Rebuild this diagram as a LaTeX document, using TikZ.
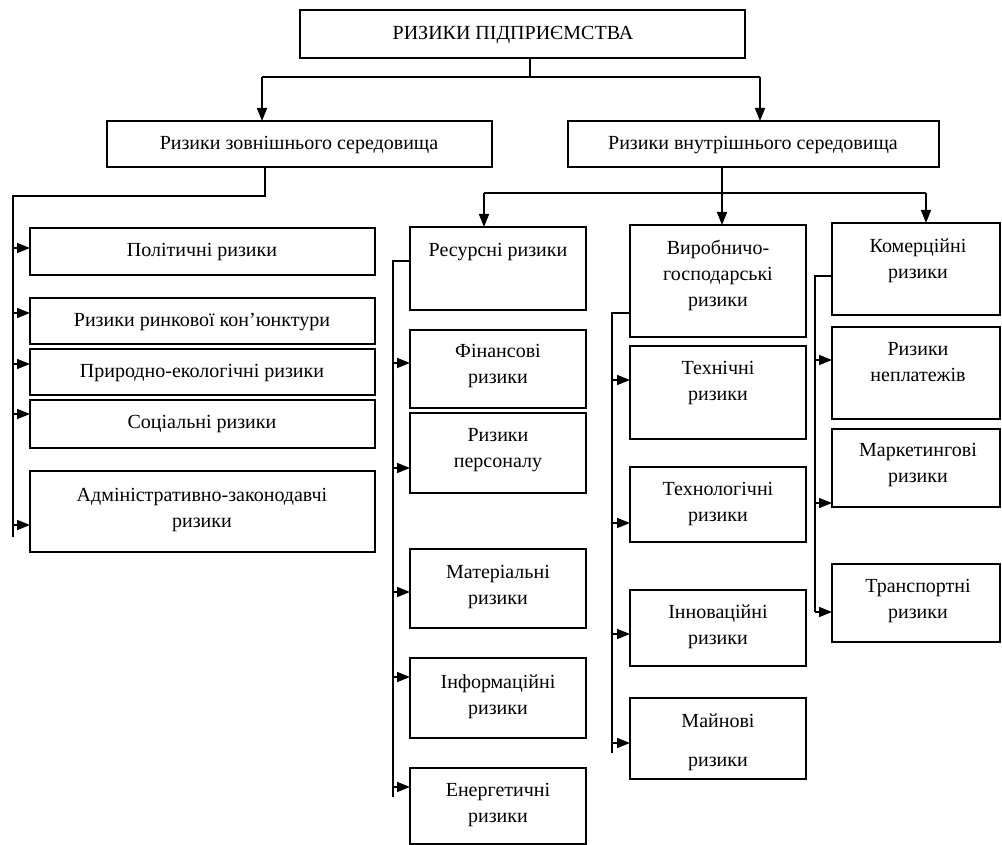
\documentclass[tikz,border=0pt]{standalone}
\usepackage{fontspec}
\setmainfont{Liberation Serif}
\usetikzlibrary{arrows.meta}
\newcommand{\bx}[5]{\node[box, minimum width={(#4-#2)*1pt}, minimum height={(#5-#3)*1pt}] (#1) at (#2,#3) {};}
\begin{document}
\begin{tikzpicture}[x=1pt,y=-1pt,
  box/.style={draw, line width=2pt, anchor=north west, inner sep=0pt, outer sep=0pt},
  lbl/.style={align=center, inner sep=0pt, font=\fontsize{20}{26}\selectfont},
  conn/.style={line width=1.6pt},
  arr/.style={line width=1.6pt, -{Triangle[length=13pt,width=10pt]}}]
\useasboundingbox (0,0) rectangle (1002,845);
% boxes
\bx{top}{300}{10}{745}{58}
\bx{ext}{107}{121}{492}{167}
\bx{int}{568}{121}{939}{167}
\bx{pol}{30}{228}{375}{275}
\bx{mkt}{30}{298}{375}{344}
\bx{eco}{30}{349}{375}{395}
\bx{soc}{30}{400}{375}{448}
\bx{adm}{30}{471}{375}{552}
\bx{res}{410}{227}{586}{310}
\bx{fin}{410}{330}{586}{408}
\bx{per}{410}{413}{586}{493}
\bx{mat}{410}{549}{586}{628}
\bx{inf}{410}{658}{586}{738}
\bx{ene}{410}{768}{586}{844}
\bx{vyr}{630}{225}{806}{337}
\bx{teh}{630}{346}{806}{439}
\bx{tlg}{630}{467}{806}{542}
\bx{inn}{630}{590}{806}{666}
\bx{mai}{630}{698}{806}{779}
\bx{kom}{832}{223}{1000}{315}
\bx{nep}{832}{327}{1000}{419}
\bx{mar}{832}{429}{1000}{507}
\bx{tra}{832}{564}{1000}{642}
% labels
\node[lbl] (topt) at (513,35) {РИЗИКИ ПІДПРИЄМСТВА};
\node[lbl] (extt) at (299,145) {Ризики зовнішнього середовища};
\node[lbl] (intt) at (753,145) {Ризики внутрішнього середовища};
\node[lbl] (polt) at (202,252) {Політичні ризики};
\node[lbl] (mktt) at (202,322) {Ризики ринкової кон’юнктури};
\node[lbl] (ecot) at (202,373) {Природно-екологічні ризики};
\node[lbl] (soct) at (202,424) {Соціальні ризики};
\node[lbl] (admt) at (202,510) {Адміністративно-законодавчі\\ризики};
\node[lbl] (rest) at (498,252) {Ресурсні ризики};
\node[lbl] (fint) at (498,366) {Фінансові\\ризики};
\node[lbl] (pert) at (498,450) {Ризики\\персоналу};
\node[lbl] (matt) at (498,587) {Матеріальні\\ризики};
\node[lbl] (inft) at (498,697) {Інформаційні\\ризики};
\node[lbl] (enet) at (498,805) {Енергетичні\\ризики};
\node[lbl] (vyrt) at (718,275) {Виробничо-\\господарські\\ризики};
\node[lbl] (teht) at (718,383) {Технічні\\ризики};
\node[lbl] (tlgt) at (718,504) {Технологічні\\ризики};
\node[lbl] (innt) at (718,627) {Інноваційні\\ризики};
\node[lbl] (mait) at (718,742) {Майнові\\[13pt]ризики};
\node[lbl] (komt) at (918,261) {Комерційні\\ризики};
\node[lbl] (nept) at (918,362) {Ризики\\неплатежів};
\node[lbl] (mart) at (918,465) {Маркетингові\\ризики};
\node[lbl] (trat) at (918,601) {Транспортні\\ризики};
% top level connectors
\coordinate (j0) at (530,77);
\coordinate (aL) at (262,77);
\coordinate (aR) at (760,77);
\draw[conn] (top.south -| j0) -- (j0);
\draw[conn] (aL) -- (aR);
\draw[arr] (aL) -- (aL |- ext.north);
\draw[arr] (aR) -- (aR |- int.north);
% external branch
\coordinate (b0) at (265,196);
\coordinate (b1) at (13,196);
\coordinate (b2) at (13,537);
\draw[conn] (ext.south -| b0) -- (b0) -- (b1) -- (b2);
\foreach \n/\y in {pol/248, mkt/313, eco/364, soc/414, adm/525}{
  \coordinate (s\n) at (13,\y);
  \draw[arr] (s\n) -- (s\n -| \n.west);
}
% internal branch
\coordinate (c0) at (722,193);
\coordinate (cL) at (484,193);
\coordinate (cR) at (926,193);
\draw[arr] (int.south -| c0) -- (c0 |- vyr.north);
\draw[conn] (cL) -- (cR);
\draw[arr] (cL) -- (cL |- res.north);
\draw[arr] (cR) -- (cR |- kom.north);
% resource column
\coordinate (r0) at (393,261);
\coordinate (r1) at (393,797);
\draw[conn] (r0 -| res.west) -- (r0) -- (r1);
\foreach \n/\y in {fin/363, per/468, mat/592, inf/677, ene/787}{
  \coordinate (s\n) at (393,\y);
  \draw[arr] (s\n) -- (s\n -| \n.west);
}
% production column
\coordinate (p0) at (612,313);
\coordinate (p1) at (612,753);
\draw[conn] (p0 -| vyr.west) -- (p0) -- (p1);
\foreach \n/\y in {teh/380, tlg/523, inn/634, mai/743}{
  \coordinate (s\n) at (612,\y);
  \draw[arr] (s\n) -- (s\n -| \n.west);
}
% commercial column
\coordinate (k0) at (815,276);
\coordinate (k1) at (815,612);
\draw[conn] (k0 -| kom.west) -- (k0) -- (k1);
\foreach \n/\y in {nep/360, mar/503, tra/612}{
  \coordinate (s\n) at (815,\y);
  \draw[arr] (s\n) -- (s\n -| \n.west);
}
\end{tikzpicture}
\end{document}
